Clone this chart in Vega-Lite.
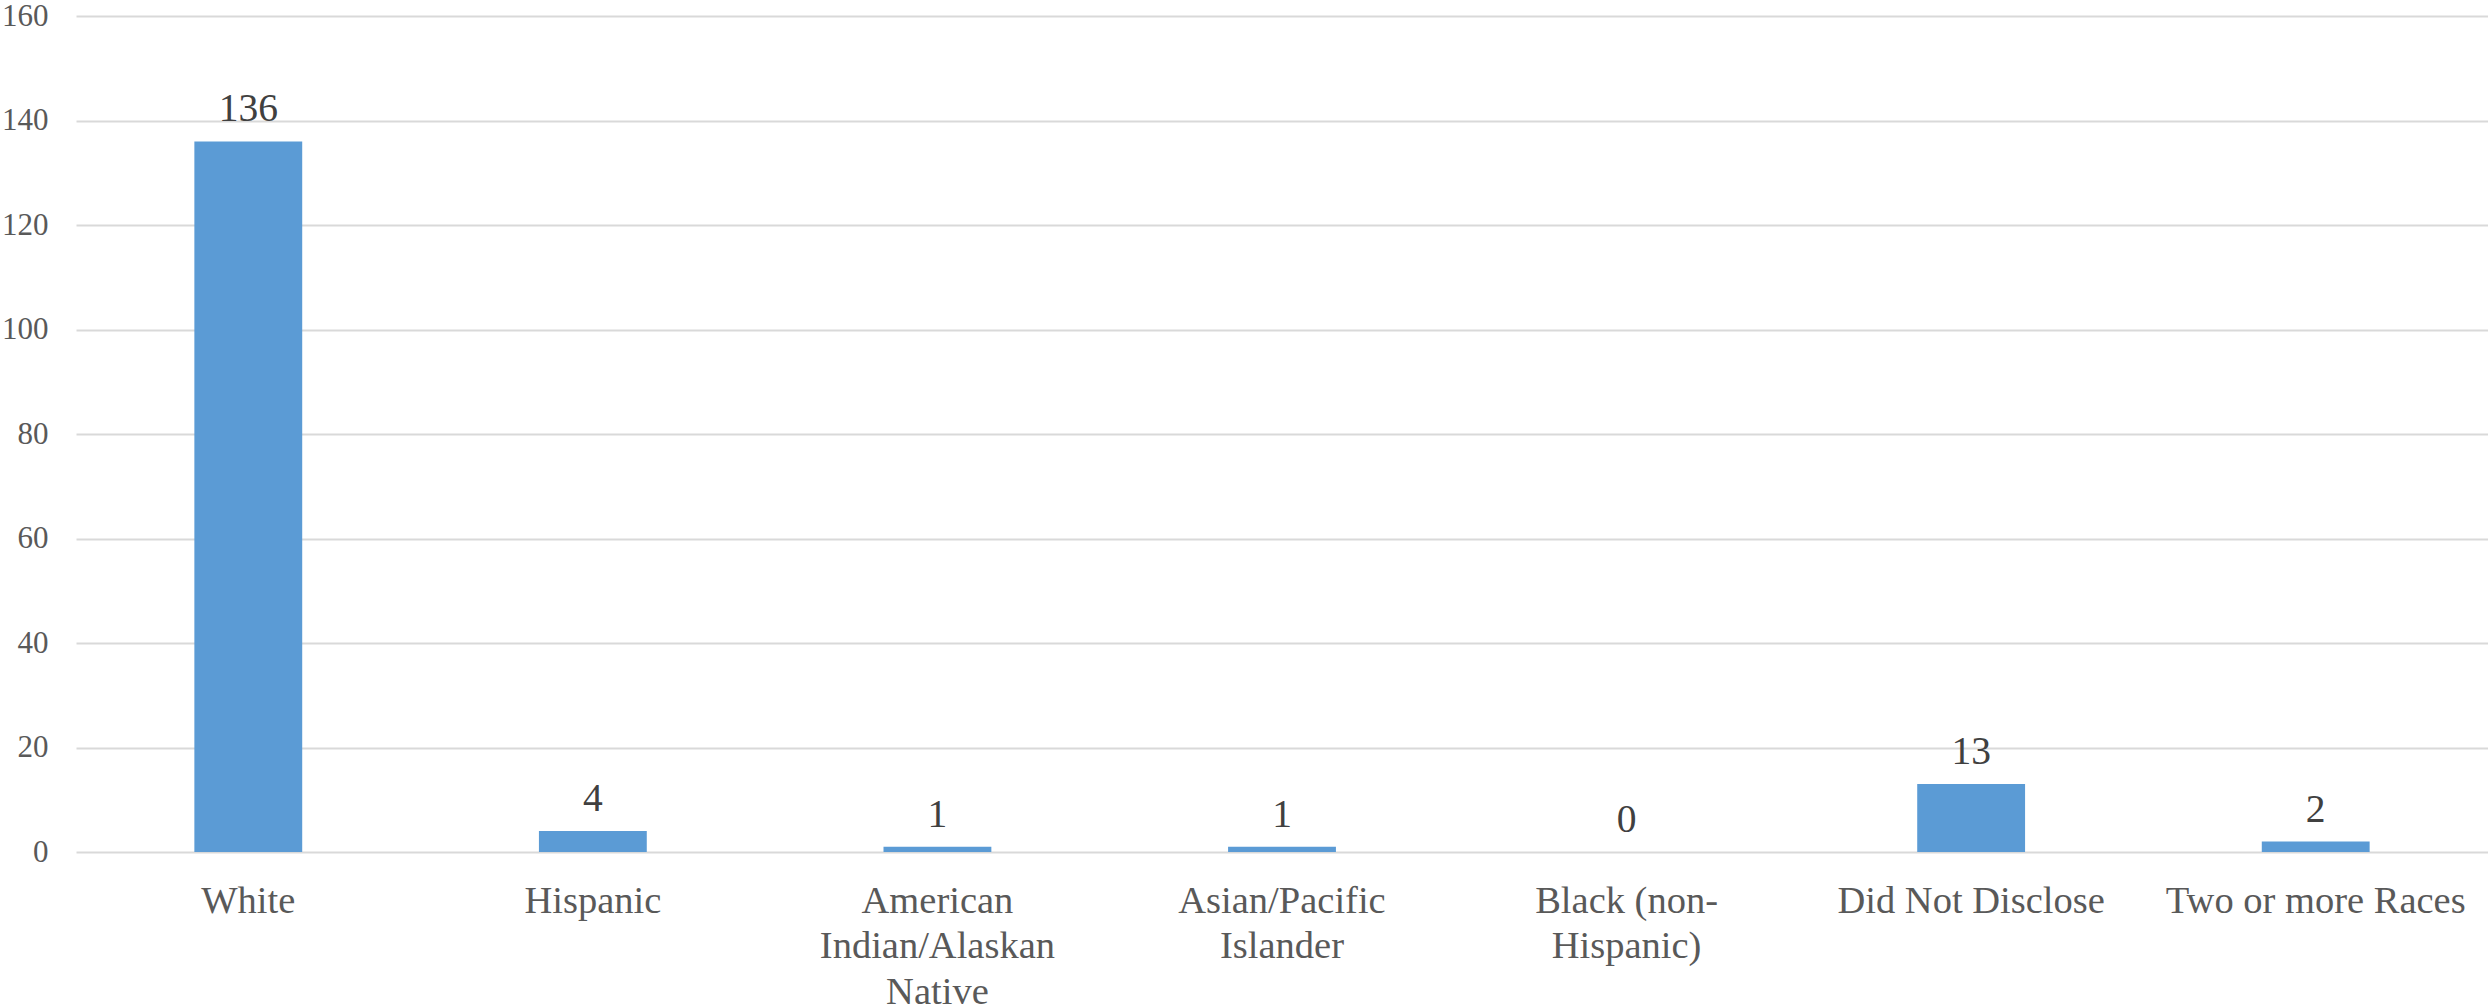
{
  "$schema": "https://vega.github.io/schema/vega-lite/v6.json",
  "autosize": {"type": "none"},
  "padding": {"left": 76, "top": 16, "right": 0, "bottom": 155},
  "width": 2412,
  "height": 836,
  "background": "white",
  "config": {
    "view": {"stroke": null},
    "font": "Liberation Serif"
  },
  "data": {
    "values": [
      {"race": "White", "count": 136},
      {"race": "Hispanic", "count": 4},
      {"race": "American Indian/Alaskan Native", "count": 1},
      {"race": "Asian/Pacific Islander", "count": 1},
      {"race": "Black (non-Hispanic)", "count": 0},
      {"race": "Did Not Disclose", "count": 13},
      {"race": "Two or more Races", "count": 2}
    ]
  },
  "encoding": {
    "x": {
      "field": "race",
      "type": "nominal",
      "sort": null,
      "scale": {"paddingInner": 0.687, "paddingOuter": 0.3435},
      "axis": {
        "title": null,
        "domain": false,
        "ticks": false,
        "labelAngle": 0,
        "labelFont": "Liberation Serif",
        "labelFontSize": 38.5,
        "labelColor": "#595959",
        "labelPadding": 30,
        "labelLineHeight": 45.5,
        "labelAlign": "center",
        "labelBaseline": "top",
        "labelLimit": 0,
        "labelOverlap": false,
        "labelExpr": "datum.value == 'American Indian/Alaskan Native' ? ['American', 'Indian/Alaskan', 'Native'] : datum.value == 'Asian/Pacific Islander' ? ['Asian/Pacific', 'Islander'] : datum.value == 'Black (non-Hispanic)' ? ['Black (non-', 'Hispanic)'] : datum.value"
      }
    },
    "y": {
      "field": "count",
      "type": "quantitative",
      "scale": {"domain": [0, 160], "nice": false},
      "axis": {
        "title": null,
        "domain": false,
        "ticks": false,
        "values": [0, 20, 40, 60, 80, 100, 120, 140, 160],
        "grid": true,
        "gridColor": "#d9d9d9",
        "gridWidth": 2,
        "labelFont": "Liberation Serif",
        "labelFontSize": 31,
        "labelColor": "#595959",
        "labelPadding": 28
      }
    }
  },
  "layer": [
    {
      "mark": {"type": "bar", "color": "#5B9BD5"}
    },
    {
      "mark": {
        "type": "text",
        "font": "Liberation Serif",
        "fontSize": 39.5,
        "color": "#404040",
        "baseline": "alphabetic",
        "align": "center",
        "dy": -20
      },
      "encoding": {
        "text": {"field": "count", "type": "quantitative"}
      }
    }
  ]
}
